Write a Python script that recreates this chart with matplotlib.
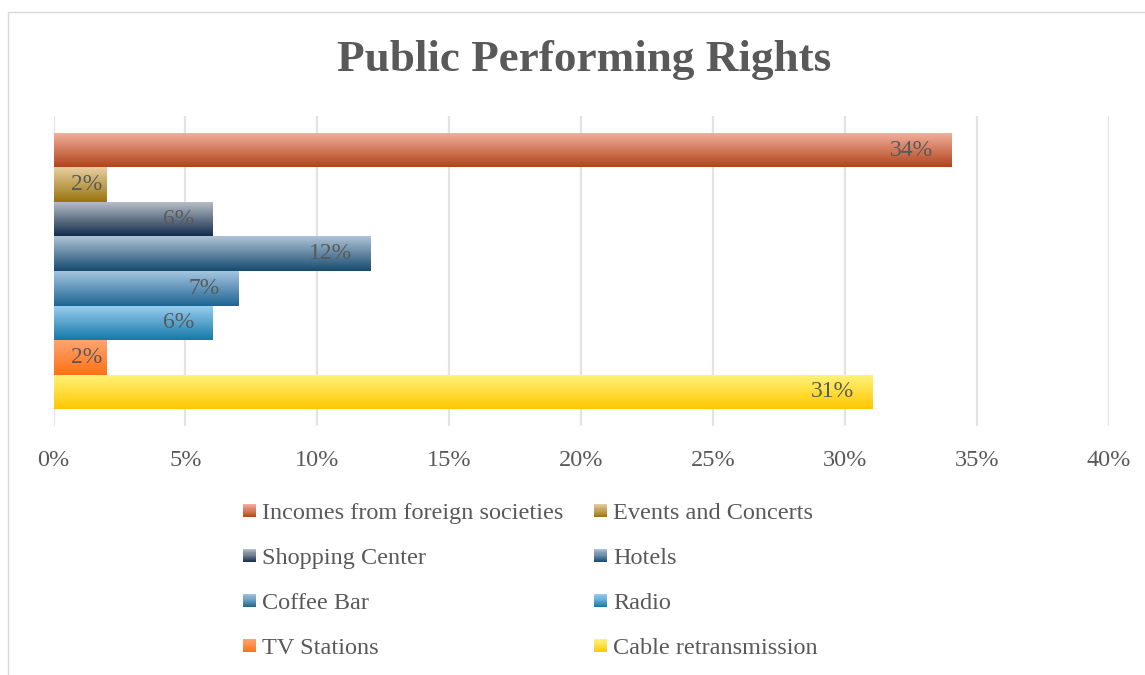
import numpy as np
import matplotlib
matplotlib.use("Agg")
import matplotlib.pyplot as plt
from matplotlib.patches import Rectangle
from matplotlib.colors import LinearSegmentedColormap
from matplotlib.legend_handler import HandlerBase

categories = ["Incomes from foreign societies", "Events and Concerts", "Shopping Center",
              "Hotels", "Coffee Bar", "Radio", "TV Stations", "Cable retransmission"]
values = [34, 2, 6, 12, 7, 6, 2, 31]
top_colors = ["#F3B2A0", "#E8D0A2", "#BAC2CA", "#B0C4D7", "#A5C5E1", "#9DCFF2", "#FFA472", "#FFF47C"]
bottom_colors = ["#B2441A", "#9A730C", "#132B4B", "#164A6E", "#1C6591", "#1479A8", "#FF7114", "#FFC700"]
ticks = [0, 5, 10, 15, 20, 25, 30, 35, 40]
tick_labels = [f"{t}%" for t in ticks]

FONT = "Liberation Serif"
TXT = "#595959"

W, H = 1145, 675
fig = plt.figure(figsize=(W / 100, H / 100), dpi=100)
fig.patch.set_facecolor("white")

# chart border
fig.add_artist(Rectangle((8 / W, -0.1), 1.2, 1 - 12 / H + 0.1, transform=fig.transFigure,
                         fill=False, edgecolor="#D9D9D9", linewidth=1.0))

ax = fig.add_axes([53.5 / W, 1 - 426 / H, (1109 - 53.5) / W, (426 - 116) / H])
n = len(values)
pad_units = 0.49
for s in ax.spines.values():
    s.set_visible(False)
ax.set_xticks(ticks)
ax.set_xticklabels(tick_labels, fontsize=17.5, color=TXT, family=FONT)
ax.tick_params(axis="x", length=0, pad=17)
ax.set_yticks([])
ax.grid(axis="x", color="#E3E3E3", linewidth=1.6)
ax.set_axisbelow(True)
ax.set_xlim(0, 40)
ax.set_ylim(n - 0.5 + pad_units, -0.5 - pad_units)

ypos = np.arange(n)
bars = ax.barh(ypos, values, height=1.0, color="none", edgecolor="none", zorder=2)
grad = np.linspace(0, 1, 256).reshape(-1, 1)
fig.canvas.draw()
renderer = fig.canvas.get_renderer()
for i, (b, v) in enumerate(zip(bars, values)):
    cmap = LinearSegmentedColormap.from_list(f"c{i}", [top_colors[i], bottom_colors[i]])
    x0, y0 = b.get_x(), b.get_y()
    w, h = b.get_width(), b.get_height()
    im = ax.imshow(grad, cmap=cmap, aspect="auto", extent=(x0, x0 + w, y0 + h, y0),
                   origin="upper", zorder=2, interpolation="bilinear")
    im.set_clip_path(b)
    t = ax.annotate(f"{v}%", xy=(v, ypos[i]), xytext=(-18 * 0.72, 0), textcoords="offset points",
                    ha="right", va="center", fontsize=17, color=TXT, family=FONT, zorder=3)
    ext = t.get_window_extent(renderer)
    bar_left_px = ax.transData.transform((0, 0))[0]
    if ext.x0 < bar_left_px + 17:
        t.remove()
        ax.annotate(f"{v}%", xy=(0, ypos[i]), xytext=(17 * 0.72, 0), textcoords="offset points",
                    ha="left", va="center", fontsize=17, color=TXT, family=FONT, zorder=3)

fig.text(584 / W, 1 - 60 / H, "Public Performing Rights", ha="center", va="center",
         fontsize=32.5, fontweight="bold", color=TXT, family=FONT)


class GradHandler(HandlerBase):
    def __init__(self, c1, c2):
        super().__init__()
        self.c1, self.c2 = c1, c2

    def create_artists(self, legend, orig_handle, xdescent, ydescent, width, height, fontsize, trans):
        size = 13.0 * 72 / 100
        x = xdescent
        y = -ydescent + (height - size) / 2
        cmap = LinearSegmentedColormap.from_list("h", [self.c1, self.c2])
        k = 12
        arts = []
        for j in range(k):
            col = cmap(1 - (j + 0.5) / k)
            r = Rectangle((x, y + j * size / k), size, size / k + 0.2, facecolor=col,
                          edgecolor="none", transform=trans)
            arts.append(r)
        return arts


handles = [Rectangle((0, 0), 1, 1) for _ in categories]
hmap = {handles[i]: GradHandler(top_colors[i], bottom_colors[i]) for i in range(n)}
col_idx = [[0, 2, 4, 6], [1, 3, 5, 7]]
col_x = [243, 594]
for cx, idx in zip(col_x, col_idx):
    leg = fig.legend([handles[i] for i in idx], [categories[i] for i in idx],
                     ncol=1, loc="upper left", bbox_to_anchor=(cx / W, 1 - 502 / H),
                     frameon=False, handler_map=hmap, prop={"family": FONT, "size": 17.5},
                     labelcolor=TXT, handlelength=0.53, handleheight=0.7, handletextpad=0.25,
                     labelspacing=0.95, borderaxespad=0, borderpad=0)

fig.savefig("out.png", dpi=100, facecolor="white")
